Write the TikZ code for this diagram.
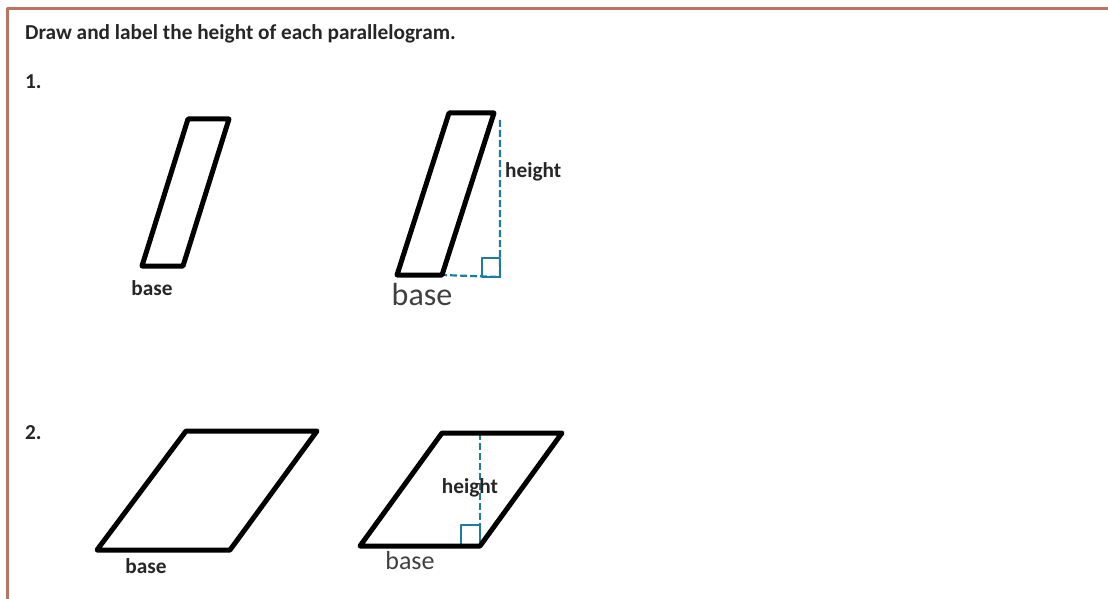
\documentclass[tikz,border=0pt]{standalone}
\usepackage{fontspec}
\setmainfont{Carlito}
\definecolor{frame}{RGB}{188,116,96}
\definecolor{hgt}{RGB}{31,125,155}
\begin{document}
\begin{tikzpicture}[x=1pt, y=-1pt, line join=round,
    pgram/.style = {draw, line width=5pt},
    hline/.style = {draw=hgt, line width=2.2pt, dash pattern=on 7pt off 3pt},
    corner/.style = {draw=hgt, line width=2.6pt},
    lbl/.style = {inner sep=0pt, font=\bfseries\fontsize{21.3}{25}\selectfont, text=black!85},
    big/.style = {inner sep=0pt, anchor=base, font=\fontsize{32}{38}\selectfont, text=black!75}]
    \useasboundingbox (0,0) rectangle (1108,599);
    % frame
    \draw[frame, line width=3pt] (1108,9) -- (7,9) -- (7,599);

    \node[lbl, anchor=west] (title) at (25,34) {Draw and label the height of each parallelogram.};
    \node[lbl, anchor=west] (n1) at (25,82) {1.};
    \node[lbl, anchor=west] (n2) at (25,433) {2.};

    % 1. left
    \coordinate (a1) at (142,266);
    \coordinate (b1) at (183,266);
    \coordinate (c1) at (229,119);
    \coordinate (d1) at (188,119);
    \draw[pgram] (a1) -- (b1) -- (c1) -- (d1) -- cycle;
    \node[lbl] (base1) at (152,288) {base};

    % 1. right
    \coordinate (a2) at (397,275);
    \coordinate (b2) at (442,275);
    \coordinate (c2) at (494,113);
    \coordinate (d2) at (449,113);
    \coordinate (t2) at (500,120);
    \coordinate (f2) at (500,277);
    \draw[hline] (t2) -- (f2) -- (b2);
    \draw[corner] (482,258) rectangle (f2);
    \draw[pgram] (a2) -- (b2) -- (c2) -- (d2) -- cycle;
    \node[lbl, anchor=west] (h2) at (505,172) {height};
    \node[big] (base2) at (422,305) {base};

    % 2. left
    \coordinate (a3) at (97,550);
    \coordinate (b3) at (230,550);
    \coordinate (c3) at (317,431);
    \coordinate (d3) at (186,431);
    \draw[pgram] (a3) -- (b3) -- (c3) -- (d3) -- cycle;
    \node[lbl] (base3) at (146,566) {base};

    % 2. right
    \coordinate (a4) at (360,546);
    \coordinate (b4) at (480,546);
    \coordinate (c4) at (562,433);
    \coordinate (d4) at (442,433);
    \coordinate (t4) at (480,433);
    \draw[hline] (t4) -- (b4);
    \draw[corner] (461,525) rectangle (b4);
    \draw[pgram] (a4) -- (b4) -- (c4) -- (d4) -- cycle;
    \node[lbl] (h4) at (470,488) {height};
    \node[big, font=\fontsize{26}{31}\selectfont] (base4) at (410,569) {base};
\end{tikzpicture}
\end{document}
